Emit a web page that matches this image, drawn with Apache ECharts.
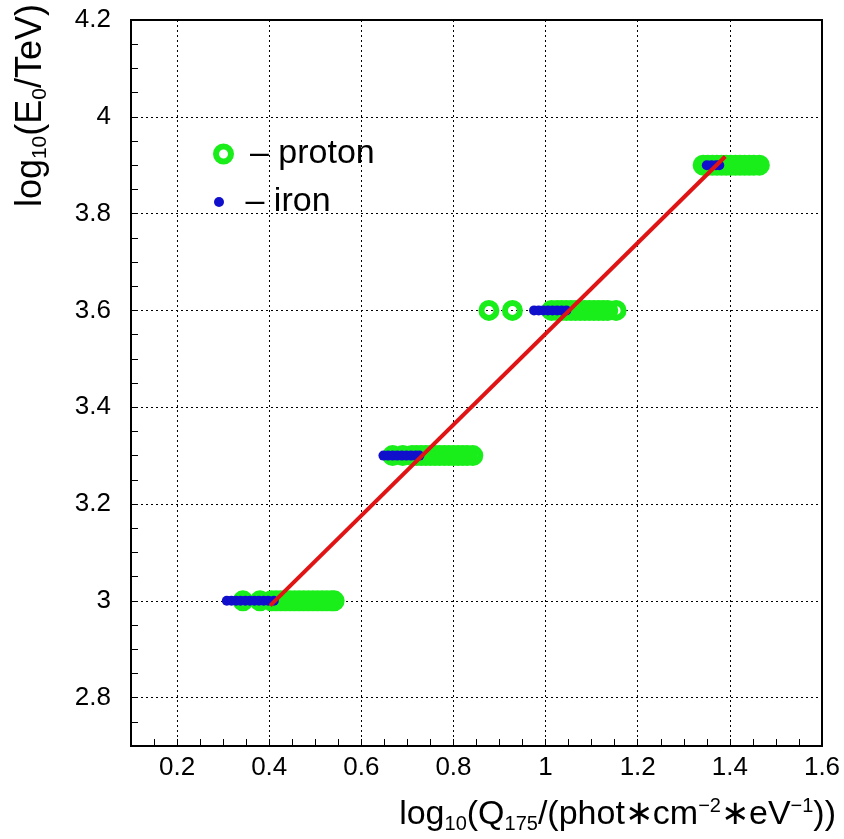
<!DOCTYPE html>
<html><head><meta charset="utf-8">
<script src="https://cdn.jsdelivr.net/npm/echarts@6/dist/echarts.min.js"></script>
<style>html,body{margin:0;padding:0;background:#fff}#c{width:844px;height:839px}</style>
</head><body><div id="c"></div>
<script>
// ---- data ----
const energyLevels = [3.0, 3.3, 3.6, 3.9];
const protonX_30 = [0.343, 0.38, 0.405, 0.415, 0.425, 0.435, 0.445, 0.455, 0.465, 0.475, 0.485, 0.495, 0.505, 0.515, 0.525, 0.535, 0.541];
const protonX_33 = [0.668, 0.69, 0.71, 0.72, 0.73, 0.74, 0.75, 0.76, 0.77, 0.78, 0.79, 0.80, 0.81, 0.82, 0.83, 0.842];
const protonX_36 = [0.877, 0.928, 1.013, 1.025, 1.035, 1.045, 1.055, 1.065, 1.075, 1.085, 1.095, 1.105, 1.115, 1.125, 1.135, 1.153];
const protonX_39 = [1.342, 1.352, 1.362, 1.372, 1.382, 1.392, 1.402, 1.412, 1.422, 1.432, 1.442, 1.452, 1.464];
const ironX_30 = [0.308, 0.318, 0.328, 0.338, 0.348, 0.358, 0.368, 0.378, 0.388, 0.398, 0.41];
const ironX_33 = [0.648, 0.658, 0.668, 0.678, 0.688, 0.698, 0.708, 0.718, 0.726];
const ironX_36 = [0.975, 0.985, 0.995, 1.005, 1.015, 1.025, 1.035, 1.045];
const ironX_39 = [1.35, 1.36, 1.37, 1.377];
const fitLineX = [0.402, 1.39];
const fitLineY = [2.99, 3.918];
const xTickLabels = [0.2, 0.4, 0.6, 0.8, 1, 1.2, 1.4, 1.6];
const yTickLabels = [2.8, 3, 3.2, 3.4, 3.6, 3.8, 4, 4.2];
const xGridValues = [0.2, 0.4, 0.6, 0.8, 1, 1.2, 1.4];
const yGridValues = [2.8, 3, 3.2, 3.4, 3.6, 3.8, 4];
const seriesNames = ['proton', 'iron'];

// ---- build ----
const protonGroups = [protonX_30, protonX_33, protonX_36, protonX_39];
const ironGroups = [ironX_30, ironX_33, ironX_36, ironX_39];
function toPoints(groups) {
  const out = [];
  groups.forEach((xs, i) => xs.forEach(x => out.push([x, energyLevels[i]])));
  return out;
}
const GREEN = '#1aee1a', BLUE = '#1010cc', RED = '#e01414';
const FONT = 'Liberation Sans, Arial, sans-serif';
const gridLine = { show: true, lineStyle: { color: '#000', width: 1, type: [2, 3] } };

const chart = echarts.init(document.getElementById('c'), null, { renderer: 'canvas' });
chart.setOption({
  animation: false,
  backgroundColor: '#fff',
  grid: { left: 131, top: 20, right: 22, bottom: 93, show: true, borderColor: '#000', borderWidth: 2, backgroundColor: 'transparent' },
  xAxis: [
    { type: 'value', min: 0.1, max: 1.6, interval: 0.05, position: 'bottom',
      axisLine: { show: true, onZero: false, lineStyle: { color: '#000', width: 2 } },
      axisTick: { show: true, inside: true, length: 7, lineStyle: { color: '#000', width: 1 } },
      axisLabel: { customValues: xTickLabels, fontSize: 26, color: '#000', margin: 9, fontFamily: FONT },
      splitLine: { show: false } },
    { type: 'value', min: 0.1, max: 1.6, position: 'bottom',
      axisLine: { show: false }, axisTick: { show: false, customValues: xGridValues },
      axisLabel: { show: false }, splitLine: gridLine }
  ],
  yAxis: [
    { type: 'value', min: 2.7, max: 4.2, interval: 0.05, position: 'left',
      axisLine: { show: true, onZero: false, lineStyle: { color: '#000', width: 2 } },
      axisTick: { show: true, inside: true, length: 7, lineStyle: { color: '#000', width: 1 } },
      axisLabel: { customValues: yTickLabels, fontSize: 26, color: '#000', margin: 20, fontFamily: FONT },
      splitLine: { show: false } },
    { type: 'value', min: 2.7, max: 4.2, position: 'left',
      axisLine: { show: false }, axisTick: { show: false, customValues: yGridValues },
      axisLabel: { show: false }, splitLine: gridLine }
  ],
  legend: [
    { data: [seriesNames[0]], orient: 'vertical', left: 213, top: 137, padding: 0,
      itemWidth: 15, itemHeight: 15, formatter: '– {name}',
      itemStyle: { color: 'rgba(0,0,0,0)', borderColor: GREEN, borderWidth: 6, opacity: 1 },
      textStyle: { fontSize: 34, lineHeight: 34, color: '#000', fontFamily: FONT, padding: [0, 0, 0, 14] } },
    { data: [seriesNames[1]], orient: 'vertical', left: 214, top: 185, padding: 0,
      itemWidth: 15, itemHeight: 10, formatter: '– {name}',
      itemStyle: { color: BLUE, borderWidth: 0, opacity: 1 },
      textStyle: { fontSize: 34, lineHeight: 34, color: '#000', fontFamily: FONT, padding: [0, 0, 0, 14] } }
  ],
  series: [
    { name: seriesNames[0], type: 'scatter', xAxisIndex: 0, yAxisIndex: 0, symbol: 'circle', symbolSize: 15,
      itemStyle: { color: 'rgba(0,0,0,0)', borderColor: GREEN, borderWidth: 6, opacity: 1 },
      emphasis: { disabled: true }, data: toPoints(protonGroups), z: 3 },
    { name: seriesNames[1], type: 'scatter', xAxisIndex: 0, yAxisIndex: 0, symbol: 'circle', symbolSize: 10,
      itemStyle: { color: BLUE, opacity: 1 }, emphasis: { disabled: true }, data: toPoints(ironGroups), z: 4 },
    { name: 'fit', type: 'line', xAxisIndex: 0, yAxisIndex: 0, showSymbol: false, symbol: 'none',
      lineStyle: { color: RED, width: 4 }, emphasis: { disabled: true },
      data: fitLineX.map((x, i) => [x, fitLineY[i]]), z: 5 }
  ],
  graphic: [
    { type: 'text', x: 31, y: 4, rotation: Math.PI / 2, silent: true,
      style: { text: '{m|log}{s|10}{m|(E}{s|0}{m|/TeV)}', align: 'right', verticalAlign: 'middle', fill: '#000',
        rich: { m: { fontSize: 36, fontFamily: FONT, lineHeight: 40 }, s: { fontSize: 21, fontFamily: FONT, verticalAlign: 'bottom', lineHeight: 22 } } } },
    { type: 'text', x: 836, y: 815, silent: true,
      style: { text: '{m|log}{s|10}{m|(Q}{s|175}{m|/(phot∗cm}{p|−2}{m|∗eV}{p|−1}{m|))}', align: 'right', verticalAlign: 'middle', fill: '#000',
        rich: { m: { fontSize: 34, fontFamily: FONT, lineHeight: 38 }, s: { fontSize: 20, fontFamily: FONT, verticalAlign: 'bottom', lineHeight: 21 },
                p: { fontSize: 20, fontFamily: FONT, verticalAlign: 'top', lineHeight: 21 } } } }
  ]
});
</script></body></html>
